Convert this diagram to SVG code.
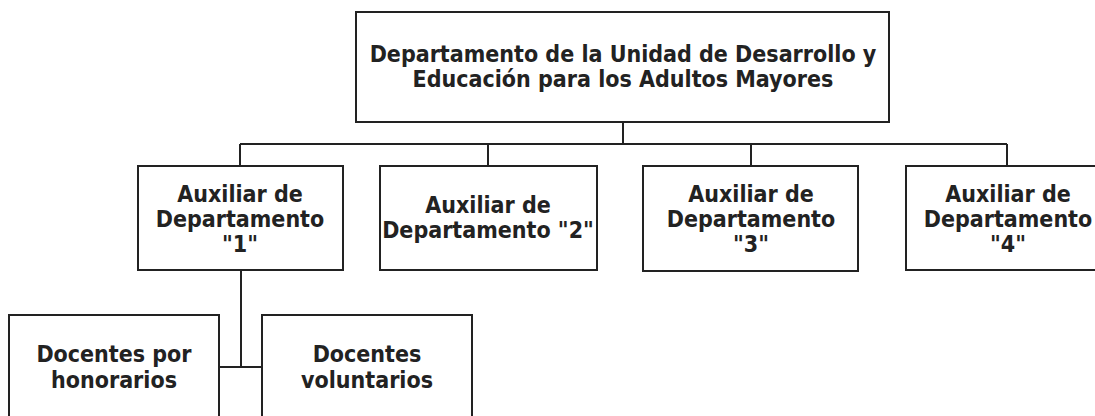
<svg xmlns="http://www.w3.org/2000/svg" width="1095" height="416" viewBox="0 0 1095 416">
<style>
.box{fill:#fff;stroke:#222;stroke-width:2}
.ln{fill:none;stroke:#222;stroke-width:2}
text{font-family:"DejaVu Sans Condensed","DejaVu Sans",Verdana,sans-serif;font-stretch:condensed;font-weight:bold;font-size:23px;fill:#222;text-anchor:middle}
</style>
<rect width="1095" height="416" fill="#fff"/>
<g id="connectors">
<path class="ln" d="M623 122V144M240 144H1007M240 144V166M488 144V166M751 144V166M1007 144V166"/>
<path class="ln" d="M241 270V367M219 367H262"/>
</g>
<g id="root">
<rect class="box" x="356" y="12" width="533" height="110"/>
<text x="623" y="62">Departamento de la Unidad de Desarrollo y</text>
<text x="623" y="87">Educación para los Adultos Mayores</text>
</g>
<g id="aux1">
<rect class="box" x="138" y="166" width="205" height="104"/>
<text x="240" y="202">Auxiliar de</text>
<text x="240" y="227">Departamento</text>
<text x="240" y="252">"1"</text>
</g>
<g id="aux2">
<rect class="box" x="380" y="166" width="217" height="104"/>
<text x="488" y="213">Auxiliar de</text>
<text x="488" y="238">Departamento "2"</text>
</g>
<g id="aux3">
<rect class="box" x="643" y="166" width="215" height="105"/>
<text x="751" y="202">Auxiliar de</text>
<text x="751" y="227">Departamento</text>
<text x="751" y="252">"3"</text>
</g>
<g id="aux4">
<rect class="box" x="906" y="166" width="204" height="104"/>
<text x="1008" y="202">Auxiliar de</text>
<text x="1008" y="227">Departamento</text>
<text x="1008" y="252">"4"</text>
</g>
<g id="docentes-honorarios">
<rect class="box" x="9" y="315" width="210" height="110"/>
<text x="114" y="362">Docentes por</text>
<text x="114" y="388">honorarios</text>
</g>
<g id="docentes-voluntarios">
<rect class="box" x="262" y="315" width="210" height="110"/>
<text x="367" y="362">Docentes</text>
<text x="367" y="388">voluntarios</text>
</g>
</svg>
